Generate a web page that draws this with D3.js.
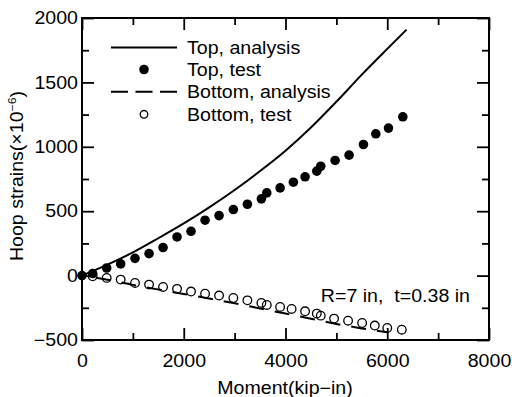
<!DOCTYPE html>
<html><head><meta charset="utf-8">
<script src="https://cdn.jsdelivr.net/npm/d3@7"></script>
<style>body{margin:0;background:#fff}svg{display:block}</style>
</head><body><svg id="c" width="512" height="397"></svg>
<script>
// ---- data ----
const topAnalysisX = [0, 500, 1000, 1500, 2000, 2500, 3000, 3500, 4000, 4500, 5000, 5500, 6000, 6380];
const topAnalysisY = [0, 85, 180, 290, 405, 530, 665, 812, 970, 1150, 1350, 1560, 1760, 1910];
const topTestX = [0, 210, 485, 760, 1042, 1318, 1593, 1868, 2143, 2419, 2694, 2975, 3251, 3526, 3632, 3894, 4155, 4385, 4615, 4693, 4975, 5250, 5532, 5775, 6024, 6306];
const topTestY = [0, 16, 59, 91, 134, 171, 218, 300, 344, 430, 466, 513, 554, 596, 642, 681, 725, 767, 811, 849, 894, 935, 1018, 1101, 1145, 1233];
const botAnalysisX = [0, 500, 1000, 1500, 2000, 2500, 3000, 3500, 4000, 4500, 5000, 5500, 6000];
const botAnalysisY = [0, -32, -72, -108, -142, -178, -215, -255, -295, -335, -375, -410, -440];
const botTestX = [210, 485, 760, 1042, 1318, 1593, 1868, 2143, 2419, 2694, 2975, 3251, 3526, 3632, 3894, 4120, 4385, 4615, 4693, 4955, 5230, 5506, 5755, 6000, 6286];
const botTestY = [-5, -18, -31, -57, -70, -88, -103, -124, -140, -155, -174, -192, -212, -228, -243, -259, -277, -295, -311, -334, -350, -368, -388, -407, -420];
const xMajor = [0, 2000, 4000, 6000, 8000];
const xMinor = [1000, 3000, 5000, 7000];
const yMajor = [-500, 0, 500, 1000, 1500, 2000];
const yMinor = [-250, 250, 750, 1250, 1750];
const legendLabels = ["Top, analysis", "Top, test", "Bottom, analysis", "Bottom, test"];

// ---- chart ----
const FONT = "'Liberation Sans', Arial, sans-serif";
const FS = 17.5, SX = 1.12;
const svg = d3.select("#c");
const L = 82, R = 489, T = 18, B = 340;
const x = d3.scaleLinear().domain([0, 8000]).range([L, R]);
const y = d3.scaleLinear().domain([-500, 2000]).range([B, T]);

function styleAxis(g) {
  g.select(".domain").remove();
  g.selectAll(".tick line").attr("stroke", "#000").attr("stroke-width", 1.8);
}
function styleText(g) {
  g.selectAll("text").attr("font-family", FONT).attr("font-size", FS).attr("fill", "#000")
    .attr("transform", `scale(${SX},1)`);
}
// bottom
svg.append("g").attr("transform", `translate(0,${B})`)
  .call(d3.axisBottom(x).tickValues(xMajor).tickSize(-12).tickPadding(15).tickFormat(d3.format("d")))
  .call(styleAxis).call(styleText);
svg.append("g").attr("transform", `translate(0,${B})`)
  .call(d3.axisBottom(x).tickValues(xMinor).tickSize(-7).tickFormat(""))
  .call(styleAxis);
// top
svg.append("g").attr("transform", `translate(0,${T})`)
  .call(d3.axisTop(x).tickValues(xMajor).tickSize(-12).tickFormat(""))
  .call(styleAxis);
svg.append("g").attr("transform", `translate(0,${T})`)
  .call(d3.axisTop(x).tickValues(xMinor).tickSize(-7).tickFormat(""))
  .call(styleAxis);
// left
svg.append("g").attr("transform", `translate(${L},0)`)
  .call(d3.axisLeft(y).tickValues(yMajor).tickSize(-12).tickPadding(3.6).tickFormat(d => d < 0 ? "\u2212" + Math.abs(d) : d))
  .call(styleAxis).call(styleText);
svg.append("g").attr("transform", `translate(${L},0)`)
  .call(d3.axisLeft(y).tickValues(yMinor).tickSize(-7).tickFormat(""))
  .call(styleAxis);
// right
svg.append("g").attr("transform", `translate(${R},0)`)
  .call(d3.axisRight(y).tickValues(yMajor).tickSize(-12).tickFormat(""))
  .call(styleAxis);
svg.append("g").attr("transform", `translate(${R},0)`)
  .call(d3.axisRight(y).tickValues(yMinor).tickSize(-7).tickFormat(""))
  .call(styleAxis);
// frame
svg.append("rect").attr("x", L).attr("y", T).attr("width", R - L).attr("height", B - T)
  .attr("fill", "none").attr("stroke", "#000").attr("stroke-width", 2);

const line = d3.line().x(d => x(d[0])).y(d => y(d[1])).curve(d3.curveMonotoneX);
const topA = topAnalysisX.map((v, i) => [v, topAnalysisY[i]]);
const botA = botAnalysisX.map((v, i) => [v, botAnalysisY[i]]);
svg.append("path").datum(topA).attr("d", line).attr("fill", "none").attr("stroke", "#000").attr("stroke-width", 2);
svg.append("path").datum(botA).attr("d", line).attr("fill", "none").attr("stroke", "#000").attr("stroke-width", 2)
  .attr("stroke-dasharray", "15,11").attr("stroke-dashoffset", -14);

svg.append("g").selectAll("circle").data(botTestX.map((v, i) => [v, botTestY[i]])).join("circle")
  .attr("cx", d => x(d[0])).attr("cy", d => y(d[1])).attr("r", 4.3)
  .attr("fill", "none").attr("stroke", "#000").attr("stroke-width", 1.3);
svg.append("g").selectAll("circle").data(topTestX.map((v, i) => [v, topTestY[i]])).join("circle")
  .attr("cx", d => x(d[0])).attr("cy", d => y(d[1])).attr("r", 4.8).attr("fill", "#000");

// legend
const lg = svg.append("g");
const rowsY = [47.5, 69.5, 91.7, 114.3];
const lx0 = 111, lx1 = 177, lmx = 144;
lg.append("line").attr("x1", lx0).attr("x2", lx1).attr("y1", rowsY[0]).attr("y2", rowsY[0]).attr("stroke", "#000").attr("stroke-width", 2);
lg.append("circle").attr("cx", lmx).attr("cy", rowsY[1]).attr("r", 4.8).attr("fill", "#000");
lg.append("line").attr("x1", lx0).attr("x2", lx1).attr("y1", rowsY[2]).attr("y2", rowsY[2]).attr("stroke", "#000").attr("stroke-width", 2).attr("stroke-dasharray", "17,7.5");
lg.append("circle").attr("cx", lmx).attr("cy", rowsY[3]).attr("r", 3.8).attr("fill", "none").attr("stroke", "#000").attr("stroke-width", 1.3);
legendLabels.forEach((t, i) => {
  lg.append("text").attr("transform", `translate(187,${rowsY[i] + 6.2}) scale(${SX},1)`)
    .attr("font-family", FONT).attr("font-size", FS).text(t);
});

// annotation
svg.append("text").attr("transform", `translate(470,302) scale(${SX},1)`).attr("text-anchor", "end")
  .attr("font-family", FONT).attr("font-size", FS).attr("xml:space", "preserve").text("R=7 in,  t=0.38 in");

// axis titles
svg.append("text").attr("transform", `translate(285,393.5) scale(${SX},1)`).attr("text-anchor", "middle")
  .attr("font-family", FONT).attr("font-size", FS).text("Moment(kip\u2212in)");
const yt = svg.append("text").attr("transform", `translate(23,176) rotate(-90) scale(${SX},1)`).attr("text-anchor", "middle")
  .attr("font-family", FONT).attr("font-size", FS);
yt.append("tspan").text("Hoop strains(\u00d710");
yt.append("tspan").attr("font-size", 11).attr("dy", -7).text("\u22126");
yt.append("tspan").attr("dy", 7).text(")");
</script></body></html>
